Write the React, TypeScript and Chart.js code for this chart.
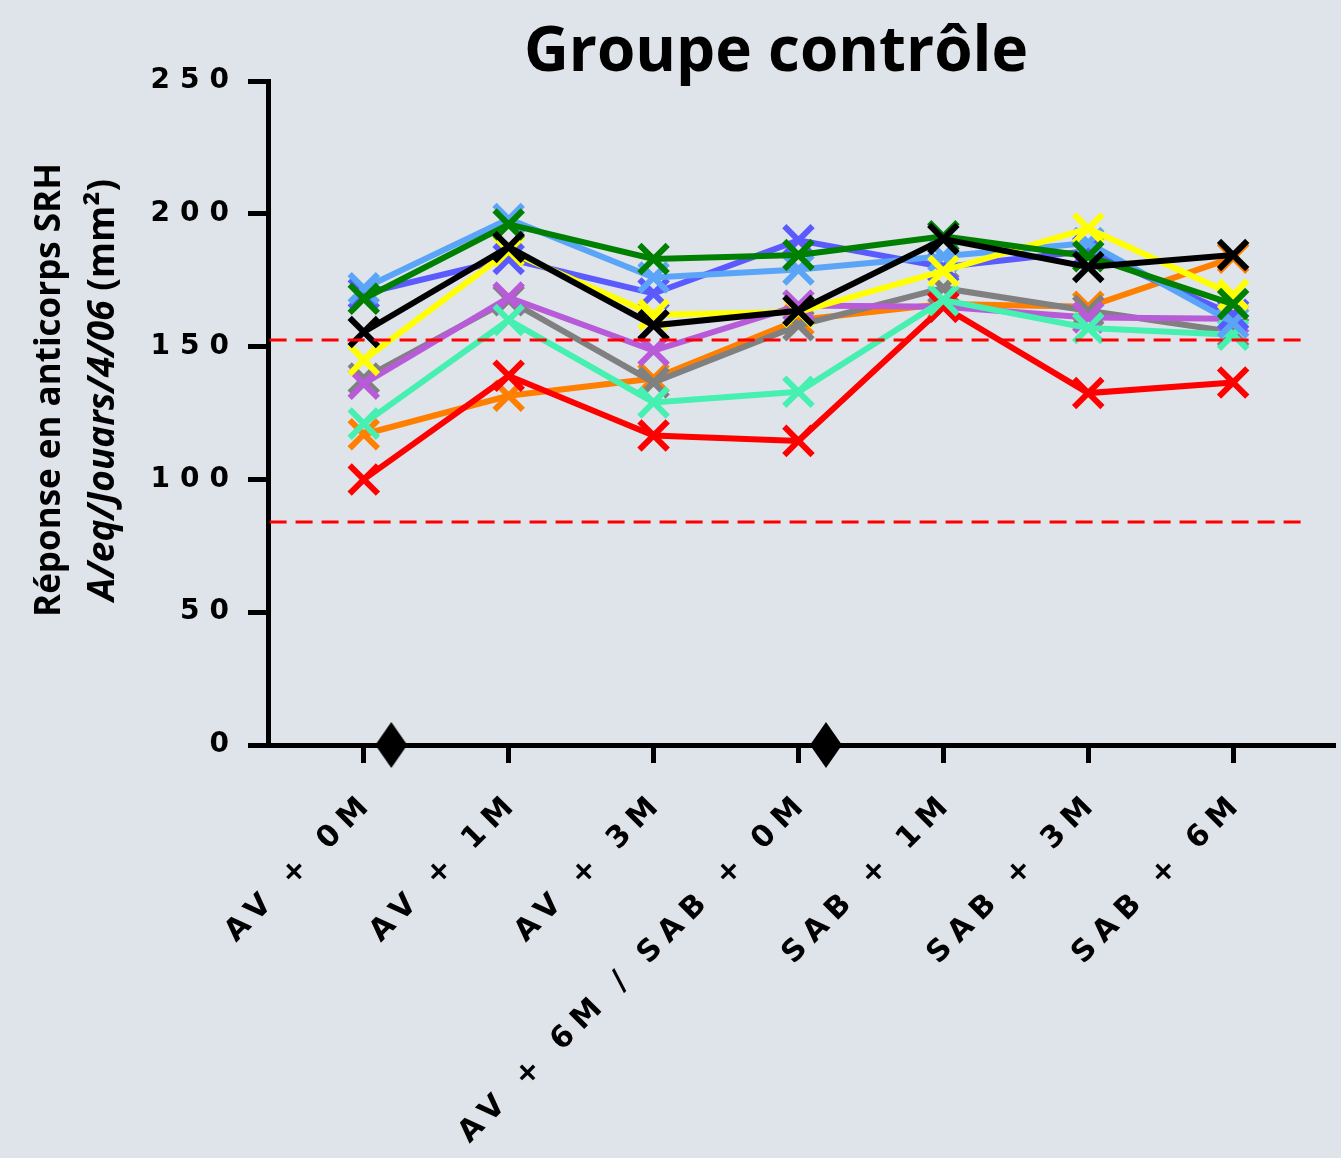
import React, { useEffect, useRef } from "react";
import { Chart, registerables, LinearScale } from "chart.js";

Chart.register(...registerables);

class SpacedLinearScale extends (LinearScale as any) {
  static id = "spacedLinear";
  static defaults = (LinearScale as any).defaults;
  drawLabels(area: any) {
    const ctx = (this as any).ctx;
    ctx.save();
    ctx.letterSpacing = (this as any).options.letterSpacing || "0px";
    super.drawLabels(area);
    ctx.restore();
  }
}
Chart.register(SpacedLinearScale as any);

// ---------- data ----------
const TITLE = "Groupe contrôle";
const Y_TITLE_1 = "Réponse en anticorps SRH";
const Y_TITLE_2A = "A/eq/Jouars/4/06 ";
const Y_TITLE_2B = "(mm²)";
const categories = [
  "AV + 0M",
  "AV + 1M",
  "AV + 3M",
  "AV + 6M / SAB + 0M",
  "SAB + 1M",
  "SAB + 3M",
  "SAB + 6M",
];
const yTicks = [0, 50, 100, 150, 200, 250];

const lightBlue = [172, 198, 176, 179, 184, 189, 159];
const blue = [170, 183, 170, 190, 180, 186, 162];
const green = [168, 196, 183, 184.5, 191.5, 184, 166];
const black = [155.5, 187.5, 158, 163.5, 190.5, 180, 184.5];
const yellow = [145, 186, 162, 163, 178.5, 194.5, 169.5];
const gray = [138, 167.5, 136.5, 158, 172, 163.5, 155.5];
const purple = [136, 168.5, 148.5, 165.5, 165, 161, 160.5];
const aqua = [121, 160, 129, 133, 167.5, 157, 154.5];
const orange = [117, 131.5, 138, 160, 166, 165, 183.5];
const red = [100, 139, 116.5, 114.5, 165, 132.5, 136.5];

const thresholdLevels = [152.5, 84];
const thresholdXRange = [-0.65, 6.49];
const diamondX = [0.19, 3.19];
const diamondY = [0, 0];

// top-most first (Chart.js draws dataset 0 last)
const seriesList = [
  { name: "noir", values: black, color: "#000000" },
  { name: "vert", values: green, color: "#008000" },
  { name: "jaune", values: yellow, color: "#ffff00" },
  { name: "bleu clair", values: lightBlue, color: "#5aa5f7" },
  { name: "bleu", values: blue, color: "#5a5aff" },
  { name: "turquoise", values: aqua, color: "#45f0b0" },
  { name: "rouge", values: red, color: "#ff0000" },
  { name: "violet", values: purple, color: "#b85bd8" },
  { name: "gris", values: gray, color: "#808080" },
  { name: "orange", values: orange, color: "#ff8000" },
];

const BG = "#dfe3ea";

function makeDiamond(): HTMLCanvasElement {
  const c = document.createElement("canvas");
  const w = 32;
  const h = 46;
  c.width = w;
  c.height = h;
  const g = c.getContext("2d")!;
  g.fillStyle = "#000";
  g.beginPath();
  g.moveTo(w / 2, 0);
  g.lineTo(w, h / 2);
  g.lineTo(w / 2, h);
  g.lineTo(0, h / 2);
  g.closePath();
  g.fill();
  return c;
}

const textPlugin = {
  id: "customText",
  afterDraw(chart: any) {
    const ctx = chart.ctx;
    const area = chart.chartArea;
    ctx.save();
    ctx.letterSpacing = "0px";
    ctx.fillStyle = "#000";
    ctx.textAlign = "center";
    ctx.textBaseline = "alphabetic";
    ctx.font = "bold 62px 'Open Sans'";
    ctx.fillText(TITLE, 776, 71);

    const cy = (area.top + area.bottom) / 2 - 23;
    ctx.translate(0, cy);
    ctx.rotate(-Math.PI / 2);
    const f = "bold 35px 'Open Sans'";
    const f2 = "bold 37px 'Open Sans'";
    const fi2 = "italic bold 37px 'Open Sans'";
    ctx.font = f;
    ctx.textBaseline = "middle";
    ctx.fillText(Y_TITLE_1, 0, 50);
    ctx.font = fi2;
    const wA = ctx.measureText(Y_TITLE_2A).width;
    ctx.font = f2;
    const wB = ctx.measureText(Y_TITLE_2B).width;
    const start = -(wA + wB) / 2;
    ctx.textAlign = "left";
    ctx.font = fi2;
    ctx.fillText(Y_TITLE_2A, start, 103);
    ctx.font = f2;
    ctx.fillText(Y_TITLE_2B, start + wA, 103);
    ctx.restore();
  },
};

export default function App() {
  const ref = useRef<HTMLCanvasElement | null>(null);
  useEffect(() => {
    if (!ref.current) return;
    const diamond = makeDiamond();
    const datasets: any[] = [];
    thresholdLevels.forEach((lvl) => {
      datasets.push({
        label: "seuil " + lvl,
        data: thresholdXRange.map((x) => ({ x, y: lvl })),
        borderColor: "#ff0000",
        borderWidth: 3,
        borderDash: [17, 9],
        pointRadius: 0,
        fill: false,
      });
    });
    seriesList.forEach((s) => {
      datasets.push({
        label: s.name,
        data: s.values.map((v, i) => ({ x: i, y: v })),
        borderColor: s.color,
        backgroundColor: s.color,
        borderWidth: 6,
        pointStyle: "crossRot",
        pointRadius: 20,
        pointBorderWidth: 6,
        pointBorderColor: s.color,
        fill: false,
        tension: 0,
      });
    });
    datasets.push({
      label: "repères",
      data: diamondX.map((x, i) => ({ x, y: diamondY[i] })),
      showLine: false,
      pointStyle: diamond,
      pointRadius: 20,
      clip: false,
    });

    const chart = new Chart(ref.current, {
      type: "line",
      data: { datasets },
      plugins: [textPlugin],
      options: {
        animation: false,
        responsive: false,
        devicePixelRatio: 1,
        clip: false as any,
        layout: {
          autoPadding: false,
          padding: { top: 81, right: 6, left: 0, bottom: 0 },
        },
        plugins: {
          legend: { display: false },
          title: { display: false },
          tooltip: { enabled: false },
        },
        scales: {
          x: {
            type: "spacedLinear" as any,
            min: -0.661,
            max: 6.703,
            letterSpacing: "8px",
            afterBuildTicks: (s: any) => {
              s.ticks = categories.map((_, i) => ({ value: i }));
            },
            afterFit: (s: any) => {
              s.height = 1158 - 745;
              s.paddingLeft = 0;
              s.paddingRight = 0;
            },
            ticks: {
              autoSkip: false,
              minRotation: 45,
              maxRotation: 45,
              padding: 22,
              labelOffset: 6,
              color: "#000",
              font: { family: "'DejaVu Sans'", size: 30, weight: "bold" },
              callback: (v: any) => categories[v] ?? "",
            },
            grid: {
              display: true,
              drawOnChartArea: false,
              drawTicks: true,
              tickLength: 18,
              tickWidth: 5,
              tickColor: "#000",
            },
            border: { display: true, width: 5, color: "#000" },
          },
          y: {
            type: "spacedLinear" as any,
            min: 0,
            max: 250,
            letterSpacing: "10px",
            afterBuildTicks: (s: any) => {
              s.ticks = yTicks.map((v) => ({ value: v }));
            },
            afterFit: (s: any) => {
              s.width = 268;
              s.paddingTop = 0;
              s.paddingBottom = 0;
            },
            ticks: {
              padding: 9,
              color: "#000",
              font: { family: "'DejaVu Sans'", size: 28, weight: "bold" },
              callback: (v: any) => String(v),
            },
            grid: {
              display: true,
              drawOnChartArea: false,
              drawTicks: true,
              tickLength: 20,
              tickWidth: 5,
              tickColor: "#000",
            },
            border: { display: true, width: 5, color: "#000" },
          },
        },
      } as any,
    });
    return () => chart.destroy();
  }, []);

  return (
    <div
      style={{
        position: "fixed",
        left: 0,
        top: 0,
        width: 1341,
        height: 1158,
        background: BG,
      }}
    >
      <canvas ref={ref} width={1341} height={1158} style={{ display: "block" }} />
    </div>
  );
}
